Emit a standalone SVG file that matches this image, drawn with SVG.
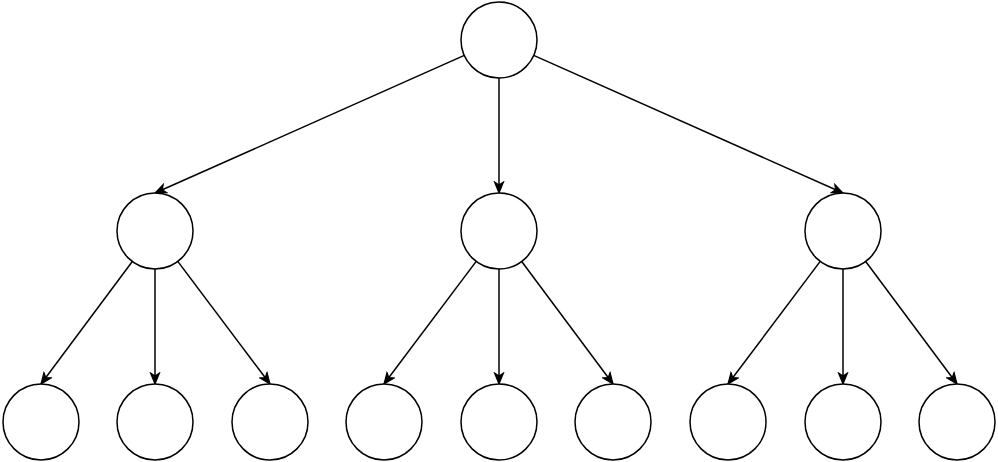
<svg xmlns="http://www.w3.org/2000/svg" width="998" height="462" viewBox="0 0 998 462">
<style>
.n{fill:#fff;stroke:#000;stroke-width:1.5}
.e{fill:none;stroke:#000;stroke-width:1.5;marker-end:url(#a)}
</style>
<defs>
<marker id="a" markerUnits="userSpaceOnUse" markerWidth="14" markerHeight="12" viewBox="0 0 14 12" refX="12" refY="6" orient="auto">
<path d="M1,1.5 L12,6 L1,10.5 L4,6 Z" fill="#000" stroke="#000" stroke-width="1.2" stroke-linejoin="miter"/>
</marker>
</defs>
<rect width="998" height="462" fill="#fff"/>
<g id="connectors">
<line class="e" x1="464.3" y1="55.4" x2="155" y2="193"/>
<line class="e" x1="499" y1="78" x2="499" y2="193"/>
<line class="e" x1="533.7" y1="55.4" x2="843" y2="193"/>
<line class="e" x1="132.3" y1="261.5" x2="41" y2="384"/>
<line class="e" x1="155" y1="269" x2="155" y2="384"/>
<line class="e" x1="177.8" y1="261.4" x2="270" y2="384"/>
<line class="e" x1="476.2" y1="261.4" x2="384" y2="384"/>
<line class="e" x1="499" y1="269" x2="499" y2="384"/>
<line class="e" x1="521.7" y1="261.5" x2="613" y2="384"/>
<line class="e" x1="820.2" y1="261.4" x2="728" y2="384"/>
<line class="e" x1="843" y1="269" x2="843" y2="384"/>
<line class="e" x1="865.7" y1="261.5" x2="957" y2="384"/>
</g>
<g id="root"><circle class="n" cx="499" cy="40" r="38"/></g>
<g id="m1"><circle class="n" cx="155" cy="231" r="38"/></g>
<g id="m2"><circle class="n" cx="499" cy="231" r="38"/></g>
<g id="m3"><circle class="n" cx="843" cy="231" r="38"/></g>
<g id="b1"><circle class="n" cx="41" cy="422" r="38"/></g>
<g id="b2"><circle class="n" cx="155" cy="422" r="38"/></g>
<g id="b3"><circle class="n" cx="270" cy="422" r="38"/></g>
<g id="b4"><circle class="n" cx="384" cy="422" r="38"/></g>
<g id="b5"><circle class="n" cx="499" cy="422" r="38"/></g>
<g id="b6"><circle class="n" cx="613" cy="422" r="38"/></g>
<g id="b7"><circle class="n" cx="728" cy="422" r="38"/></g>
<g id="b8"><circle class="n" cx="843" cy="422" r="38"/></g>
<g id="b9"><circle class="n" cx="957" cy="422" r="38"/></g>
</svg>
